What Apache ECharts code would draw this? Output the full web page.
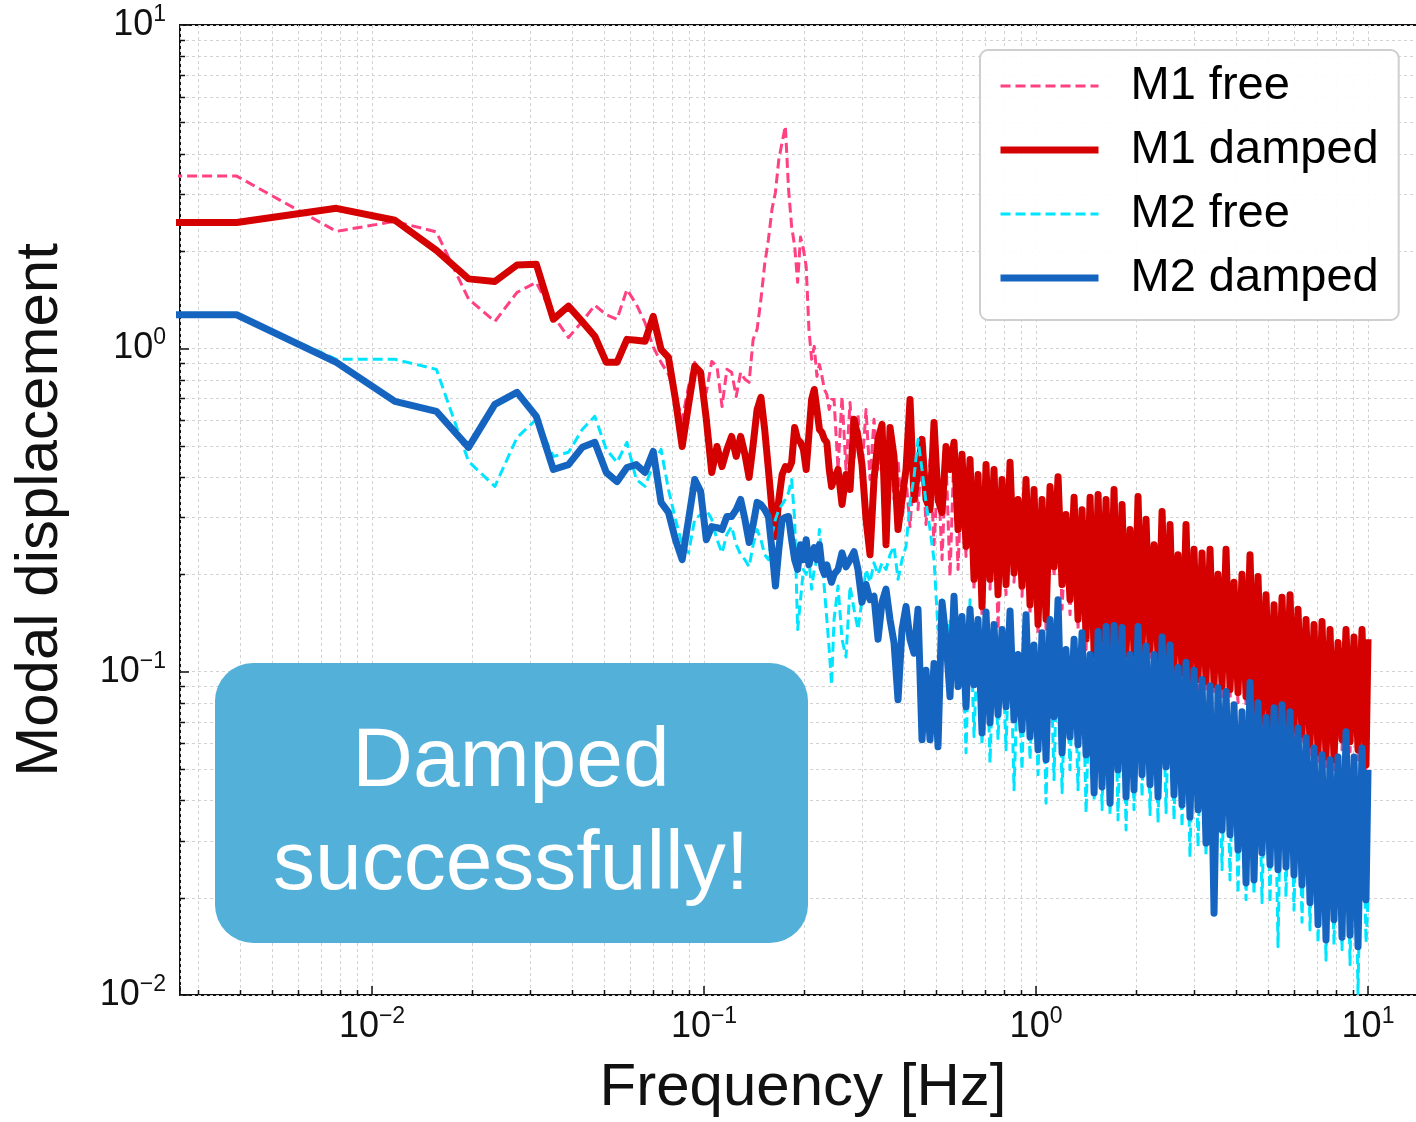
<!DOCTYPE html>
<html><head><meta charset="utf-8">
<script src="https://cdn.jsdelivr.net/npm/echarts@6/dist/echarts.min.js"></script>
<style>html,body{margin:0;padding:0;background:#fff}#chart{width:1416px;height:1122px}</style>
</head><body><div id="chart"></div>
<script>
// Frequency bins [Hz]
const freq = [
  0.0025, 0.00391, 0.00781, 0.01172, 0.01563, 0.01953, 0.02344, 0.02734, 0.03125, 0.03516, 0.03906,
  0.04297, 0.04688, 0.05078, 0.05469, 0.05859, 0.0625, 0.06641, 0.07031, 0.07422, 0.07813,
  0.08203, 0.08594, 0.08984, 0.09375, 0.09766, 0.1016, 0.1055, 0.1094, 0.1133, 0.1172,
  0.1211, 0.125, 0.1289, 0.1328, 0.1367, 0.1406, 0.1445, 0.1484, 0.1523, 0.1563,
  0.1602, 0.1641, 0.168, 0.1719, 0.1758, 0.1797, 0.1836, 0.1875, 0.1914, 0.1953,
  0.1992, 0.2031, 0.207, 0.2109, 0.2148, 0.2188, 0.2227, 0.2266, 0.2305, 0.2344,
  0.2383, 0.2422,
  0.2464, 0.2533, 0.2604, 0.2677, 0.2753, 0.2830, 0.2909, 0.2991,
  0.3076, 0.3162, 0.3251, 0.3343, 0.3437, 0.3533, 0.3633, 0.3735,
  0.3840, 0.3948, 0.4059, 0.4173, 0.4291, 0.4411, 0.4535, 0.4663,
  0.4794, 0.4929, 0.5068, 0.5211, 0.5357, 0.5508, 0.5662, 0.5822,
  0.5985, 0.6154, 0.6327, 0.6505, 0.6688, 0.6876, 0.7070, 0.7268,
  0.7472, 0.7683, 0.7899, 0.8121, 0.8350, 0.8584, 0.8826, 0.9074,
  0.9330, 0.9592, 0.9862, 1.014, 1.0425, 1.072, 1.102, 1.133,
  1.165, 1.198, 1.231, 1.266, 1.302, 1.338, 1.376, 1.415,
  1.455, 1.496, 1.538, 1.581, 1.625, 1.671, 1.718, 1.766,
  1.816, 1.867, 1.919, 1.973, 2.029, 2.086, 2.145, 2.205,
  2.267, 2.331, 2.397, 2.464, 2.533, 2.604, 2.677, 2.753,
  2.830, 2.909, 2.991, 3.076, 3.162, 3.251, 3.343, 3.437,
  3.533, 3.633, 3.735, 3.840, 3.948, 4.059, 4.173, 4.291,
  4.411, 4.535, 4.663, 4.794, 4.929, 5.068, 5.211, 5.357,
  5.508, 5.662, 5.822, 5.985, 6.154, 6.327, 6.505, 6.688,
  6.876, 7.070, 7.268, 7.472, 7.683, 7.899, 8.121, 8.350,
  8.584, 8.826, 9.074, 9.330, 9.592, 9.862,
  10.0
];

const m1Free = [
  3.41, 3.41, 2.30, 2.47, 2.29, 1.42, 1.21, 1.49, 1.60, 1.26, 1.08,
  1.21, 1.36, 1.27, 1.23, 1.52, 1.37, 1.20, 1.01, 0.905, 0.831,
  0.720, 0.603, 0.763, 0.905, 0.802, 0.731, 0.911, 0.880, 0.661, 0.861,
  0.843, 0.710, 0.843, 0.802, 0.785, 1.066, 1.145, 1.418, 1.82, 2.17,
  2.69, 3.04, 3.84, 4.34, 4.87, 3.11, 2.38, 2.07, 1.60, 2.21,
  2.03, 1.79, 1.145, 0.925, 1.014, 0.819, 0.892, 0.819, 0.746, 0.720,
  0.647, 0.695,
  0.695, 0.422, 0.710, 0.422, 0.680, 0.453, 0.624, 0.422,
  0.647, 0.393, 0.603, 0.422, 0.574, 0.366, 0.523, 0.341,
  0.453, 0.296, 0.393, 0.281, 0.422, 0.317, 0.487, 0.285,
  0.453, 0.247, 0.422, 0.222, 0.453, 0.197, 0.487, 0.207,
  0.444, 0.227, 0.428, 0.180, 0.385, 0.148, 0.413, 0.180,
  0.399, 0.135, 0.371, 0.173, 0.419, 0.189, 0.322, 0.171,
  0.371, 0.150, 0.346, 0.130, 0.322, 0.135, 0.353, 0.197,
  0.379, 0.156, 0.290, 0.150, 0.327, 0.135, 0.300, 0.117,
  0.327, 0.105, 0.334, 0.117, 0.322, 0.109, 0.346, 0.104,
  0.311, 0.105, 0.260, 0.106, 0.329, 0.109, 0.279, 0.109,
  0.233, 0.101, 0.296, 0.100, 0.269, 0.0958, 0.217, 0.0925,
  0.269, 0.0892, 0.226, 0.0880, 0.221, 0.0868, 0.226, 0.0849,
  0.189, 0.0837, 0.226, 0.0819, 0.178, 0.0802, 0.189, 0.0779,
  0.217, 0.0710, 0.186, 0.0652, 0.164, 0.0616, 0.153, 0.0625,
  0.160, 0.0629, 0.164, 0.0616, 0.147, 0.0594, 0.137, 0.0553,
  0.132, 0.0522, 0.135, 0.0508, 0.128, 0.0497, 0.116, 0.0573,
  0.128, 0.0565, 0.121, 0.0534, 0.128, 0.0480,
  0.119
];

const m1Damped = [
  2.45, 2.45, 2.71, 2.49, 2.01, 1.64, 1.61, 1.81, 1.82, 1.23, 1.35,
  1.21, 1.09, 0.905, 0.905, 1.066, 1.059, 1.051, 1.256, 0.993, 0.938,
  0.695, 0.497, 0.671, 0.880, 0.843, 0.603, 0.413, 0.497, 0.431, 0.487,
  0.534, 0.463, 0.534, 0.470, 0.399, 0.504, 0.647, 0.705, 0.561, 0.422,
  0.317, 0.262, 0.341, 0.407, 0.431, 0.422, 0.444, 0.569, 0.523, 0.512,
  0.487, 0.422, 0.542, 0.695, 0.746, 0.647, 0.561, 0.549, 0.523, 0.512,
  0.422, 0.374,
  0.393, 0.422, 0.329, 0.407, 0.366, 0.603, 0.534, 0.437,
  0.296, 0.230, 0.393, 0.523, 0.582, 0.247, 0.569, 0.463,
  0.275, 0.341, 0.422, 0.695, 0.341, 0.422, 0.523, 0.341,
  0.317, 0.590, 0.341, 0.311, 0.497, 0.422, 0.512, 0.275,
  0.470, 0.244, 0.453, 0.193, 0.407, 0.159, 0.437, 0.193,
  0.422, 0.173, 0.393, 0.186, 0.444, 0.202, 0.341, 0.184,
  0.393, 0.161, 0.366, 0.140, 0.341, 0.145, 0.374, 0.211,
  0.401, 0.186, 0.306, 0.167, 0.346, 0.145, 0.317, 0.126,
  0.346, 0.113, 0.353, 0.126, 0.341, 0.117, 0.366, 0.111,
  0.329, 0.113, 0.275, 0.114, 0.348, 0.117, 0.296, 0.117,
  0.247, 0.109, 0.313, 0.107, 0.285, 0.103, 0.230, 0.0993,
  0.285, 0.0958, 0.239, 0.0945, 0.233, 0.0932, 0.239, 0.0911,
  0.200, 0.0899, 0.239, 0.0880, 0.189, 0.0862, 0.200, 0.0837,
  0.230, 0.0763, 0.197, 0.0700, 0.173, 0.0661, 0.161, 0.0670,
  0.170, 0.0675, 0.173, 0.0661, 0.156, 0.0638, 0.145, 0.0594,
  0.140, 0.0561, 0.143, 0.0545, 0.135, 0.0534, 0.123, 0.0616,
  0.135, 0.0607, 0.128, 0.0573, 0.135, 0.0515,
  0.126
];

const m2Free = [
  1.27, 1.27, 0.925, 0.925, 0.861, 0.447, 0.374, 0.530, 0.603, 0.463, 0.477,
  0.561, 0.616, 0.487, 0.444, 0.512, 0.393, 0.374, 0.437, 0.487, 0.366,
  0.296, 0.247, 0.233, 0.296, 0.306, 0.317, 0.296, 0.256, 0.233, 0.266,
  0.281, 0.247, 0.230, 0.222, 0.211, 0.247, 0.275, 0.256, 0.230, 0.222,
  0.266, 0.296, 0.317, 0.329, 0.341, 0.358, 0.393, 0.296, 0.135, 0.167,
  0.207, 0.200, 0.222, 0.180, 0.207, 0.222, 0.275, 0.222, 0.180, 0.145,
  0.117, 0.0911,
  0.145, 0.184, 0.126, 0.111, 0.184, 0.156, 0.135, 0.167,
  0.207, 0.189, 0.217, 0.200, 0.217, 0.207, 0.230, 0.244,
  0.193, 0.222, 0.244, 0.334, 0.401, 0.523, 0.422, 0.334,
  0.275, 0.222, 0.135, 0.167, 0.109, 0.145, 0.0945, 0.126,
  0.140, 0.0561, 0.167, 0.0629, 0.137, 0.0594, 0.145, 0.0522,
  0.133, 0.0616, 0.128, 0.0573, 0.145, 0.0431, 0.107, 0.0497,
  0.143, 0.0534, 0.115, 0.0480, 0.126, 0.0392, 0.137, 0.0463,
  0.158, 0.0422, 0.110, 0.0497, 0.119, 0.0431, 0.126, 0.0366,
  0.107, 0.0401, 0.126, 0.0374, 0.130, 0.0361, 0.131, 0.0348,
  0.129, 0.0324, 0.107, 0.0374, 0.130, 0.0410, 0.113, 0.0361,
  0.107, 0.0341, 0.121, 0.0366, 0.115, 0.0348, 0.0979, 0.0331,
  0.101, 0.0267, 0.0958, 0.0287, 0.0892, 0.0271, 0.0855, 0.0262,
  0.0843, 0.0244, 0.0819, 0.0227, 0.0752, 0.0206, 0.0710, 0.0197,
  0.0868, 0.0204, 0.0763, 0.0193, 0.0685, 0.0193, 0.0731, 0.0141,
  0.0752, 0.0201, 0.0710, 0.0183, 0.0638, 0.0168, 0.0594, 0.0159,
  0.0553, 0.0145, 0.0526, 0.0128, 0.0504, 0.0143, 0.0515, 0.0138,
  0.0616, 0.0124, 0.0515, 0.0101, 0.0549, 0.0145,
  0.0197
];

const m2Damped = [
  1.27, 1.27, 0.905, 0.685, 0.638, 0.494, 0.671, 0.731, 0.616, 0.422, 0.437,
  0.494, 0.512, 0.413, 0.387, 0.428, 0.437, 0.413, 0.480, 0.334, 0.311,
  0.256, 0.222, 0.296, 0.393, 0.361, 0.256, 0.281, 0.279, 0.275, 0.302,
  0.302, 0.317, 0.341, 0.296, 0.251, 0.285, 0.334, 0.329, 0.317, 0.302,
  0.239, 0.184, 0.239, 0.296, 0.300, 0.302, 0.256, 0.222, 0.207, 0.247,
  0.222, 0.256, 0.214, 0.230, 0.242, 0.222, 0.247, 0.210, 0.200, 0.214,
  0.200, 0.189,
  0.200, 0.207, 0.233, 0.211, 0.222, 0.235, 0.207, 0.164,
  0.186, 0.167, 0.171, 0.126, 0.164, 0.180, 0.145, 0.123,
  0.0819, 0.135, 0.159, 0.126, 0.114, 0.156, 0.0616, 0.101,
  0.0616, 0.106, 0.0586, 0.164, 0.126, 0.0837, 0.171, 0.0899,
  0.148, 0.0779, 0.156, 0.0911, 0.145, 0.0647, 0.153, 0.0695,
  0.140, 0.0736, 0.135, 0.0779, 0.154, 0.0710, 0.113, 0.0661,
  0.150, 0.0629, 0.121, 0.0573, 0.132, 0.0534, 0.145, 0.0726,
  0.167, 0.0561, 0.117, 0.0629, 0.126, 0.0594, 0.132, 0.0553,
  0.113, 0.0422, 0.133, 0.0440, 0.138, 0.0392, 0.139, 0.0497,
  0.137, 0.0410, 0.113, 0.0431, 0.138, 0.0480, 0.120, 0.0447,
  0.113, 0.0410, 0.128, 0.0508, 0.121, 0.0416, 0.103, 0.0387,
  0.107, 0.0355, 0.101, 0.0374, 0.0945, 0.0295, 0.0905, 0.0179,
  0.0892, 0.0324, 0.0868, 0.0313, 0.0790, 0.0281, 0.0752, 0.0222,
  0.0925, 0.0227, 0.0802, 0.0275, 0.0721, 0.0253, 0.0773, 0.0244,
  0.0790, 0.0249, 0.0752, 0.0235, 0.0670, 0.0219, 0.0625, 0.0193,
  0.0581, 0.0165, 0.0553, 0.0148, 0.0534, 0.0171, 0.0545, 0.0151,
  0.0652, 0.0153, 0.0545, 0.0141, 0.0581, 0.0197,
  0.0497
];

const seriesNames = ['M1 free', 'M1 damped', 'M2 free', 'M2 damped'];
const seriesColors = ['#FF4081', '#D50000', '#00E5FF', '#1565C0'];
const minorMultipliers = [2, 3, 4, 5, 6, 7, 8, 9];
const xDecades = [0.001, 0.01, 0.1, 1];
const yDecades = [0.01, 0.1, 1];

const X_MIN = 0.00264, X_MAX = 14.95, Y_MIN = 0.01, Y_MAX = 10;
const FONT = '"Liberation Sans", Arial, Helvetica, sans-serif';
const GRID_COLOR = '#d2d2d2';

function minorList(decades, lo, hi) {
  const out = [];
  decades.forEach(d => minorMultipliers.forEach(m => {
    const v = +(m * d).toPrecision(3);
    if (v > lo && v < hi) out.push(v);
  }));
  return out;
}
const xMinor = minorList(xDecades, X_MIN, X_MAX);
const yMinor = minorList(yDecades, Y_MIN, Y_MAX);

function pairs(vals) { return freq.map((f, i) => [f, vals[i]]); }

function supLabel(v) {
  const l = Math.log10(v);
  const e = Math.round(l);
  if (Math.abs(l - e) > 1e-6) return '';
  return '{b|10}{s|' + (e < 0 ? '\u2212' + (-e) : String(e)) + '}';
}
const labelRich = {
  b: { fontSize: 36, fontFamily: FONT, color: '#111', lineHeight: 44 },
  s: { fontSize: 23, fontFamily: FONT, color: '#111', lineHeight: 30, verticalAlign: 'top' }
};

const chart = echarts.init(document.getElementById('chart'), null, { renderer: 'canvas' });

const lineSeries = seriesNames.map((name, i) => {
  const dashed = (i % 2 === 0);
  return {
    name, type: 'line',
    data: pairs([m1Free, m1Damped, m2Free, m2Damped][i]),
    symbol: 'none', showSymbol: false, animation: false, z: 3,
    lineStyle: { color: seriesColors[i], width: dashed ? 3 : 7, type: dashed ? [10, 5] : 'solid', join: 'round' },
    itemStyle: { color: seriesColors[i] }
  };
});

const minorX = {
  type: 'custom', silent: true, animation: false, z: 1,
  data: xMinor.map(v => [v, Y_MIN]),
  encode: { x: 0, y: 1 },
  renderItem(params, api) {
    const cs = params.coordSys;
    const x = Math.round(api.coord([api.value(0), api.value(1)])[0]) + 0.5;
    const yb = cs.y + cs.height;
    return { type: 'group', children: [
      { type: 'line', shape: { x1: x, y1: cs.y, x2: x, y2: yb }, style: { stroke: GRID_COLOR, lineWidth: 1, lineDash: [3, 3] } },
      { type: 'line', shape: { x1: x, y1: yb, x2: x, y2: yb - 5 }, style: { stroke: '#111', lineWidth: 1.5 } }
    ] };
  }
};
const minorY = {
  type: 'custom', silent: true, animation: false, z: 1,
  data: yMinor.map(v => [X_MIN, v]),
  encode: { x: 0, y: 1 },
  renderItem(params, api) {
    const cs = params.coordSys;
    const y = Math.round(api.coord([api.value(0), api.value(1)])[1]) + 0.5;
    return { type: 'group', children: [
      { type: 'line', shape: { x1: cs.x, y1: y, x2: cs.x + cs.width, y2: y }, style: { stroke: GRID_COLOR, lineWidth: 1, lineDash: [3, 3] } },
      { type: 'line', shape: { x1: cs.x, y1: y, x2: cs.x + 5, y2: y }, style: { stroke: '#111', lineWidth: 1.5 } }
    ] };
  }
};

chart.setOption({
  backgroundColor: '#ffffff',
  animation: false,
  grid: { left: 180, top: 25, width: 1246, height: 970, outerBoundsMode: 'none', containLabel: false, show: true, borderColor: '#111', borderWidth: 2, backgroundColor: 'transparent' },
  xAxis: {
    type: 'log', logBase: 10, min: X_MIN, max: X_MAX,
    name: 'Frequency [Hz]', nameLocation: 'middle', nameGap: 63,
    nameTextStyle: { fontSize: 60, fontFamily: FONT, color: '#111' },
    axisLine: { show: false },
    axisTick: { show: true, inside: true, length: 9, lineStyle: { color: '#111', width: 1.5 } },
    axisLabel: { formatter: supLabel, rich: labelRich, margin: 10, hideOverlap: false },
    splitLine: { show: true, lineStyle: { color: GRID_COLOR, width: 1, type: [3, 3] } },
    minorTick: { show: false }, minorSplitLine: { show: false }
  },
  yAxis: {
    type: 'log', logBase: 10, min: Y_MIN, max: Y_MAX,
    name: 'Modal displacement', nameLocation: 'middle', nameGap: 110, nameRotate: 90,
    nameTextStyle: { fontSize: 60, fontFamily: FONT, color: '#111' },
    axisLine: { show: false },
    axisTick: { show: true, inside: true, length: 9, lineStyle: { color: '#111', width: 1.5 } },
    axisLabel: { formatter: supLabel, rich: labelRich, margin: 14 },
    splitLine: { show: true, lineStyle: { color: GRID_COLOR, width: 1, type: [3, 3] } },
    minorTick: { show: false }, minorSplitLine: { show: false }
  },
  legend: {
    data: seriesNames, orient: 'vertical', left: 980, top: 50,
    itemWidth: 98, itemHeight: 4, itemGap: 12,
    padding: [10, 20, 16, 17],
    backgroundColor: 'rgba(255,255,255,0.93)', borderColor: '#cfcfcf', borderWidth: 2, borderRadius: 8,
    selectedMode: false,
    itemStyle: { opacity: 0 },
    lineStyle: { width: 'inherit' },
    textStyle: { fontSize: 47, fontFamily: FONT, color: '#000', lineHeight: 52, padding: [0, 0, 0, 27] }
  },
  graphic: [
    { type: 'rect', z: 100, shape: { x: 215, y: 663, width: 593, height: 280, r: 38 }, style: { fill: '#53B0D9' } },
    { type: 'text', z: 101, style: { text: 'Damped', x: 511, y: 763, fill: '#ffffff', fontSize: 84, fontFamily: FONT, align: 'center', verticalAlign: 'middle' } },
    { type: 'text', z: 101, style: { text: 'successfully!', x: 511, y: 866, fill: '#ffffff', fontSize: 84, fontFamily: FONT, align: 'center', verticalAlign: 'middle' } }
  ],
  series: [minorX, minorY].concat(lineSeries)
});
</script>
</body></html>
